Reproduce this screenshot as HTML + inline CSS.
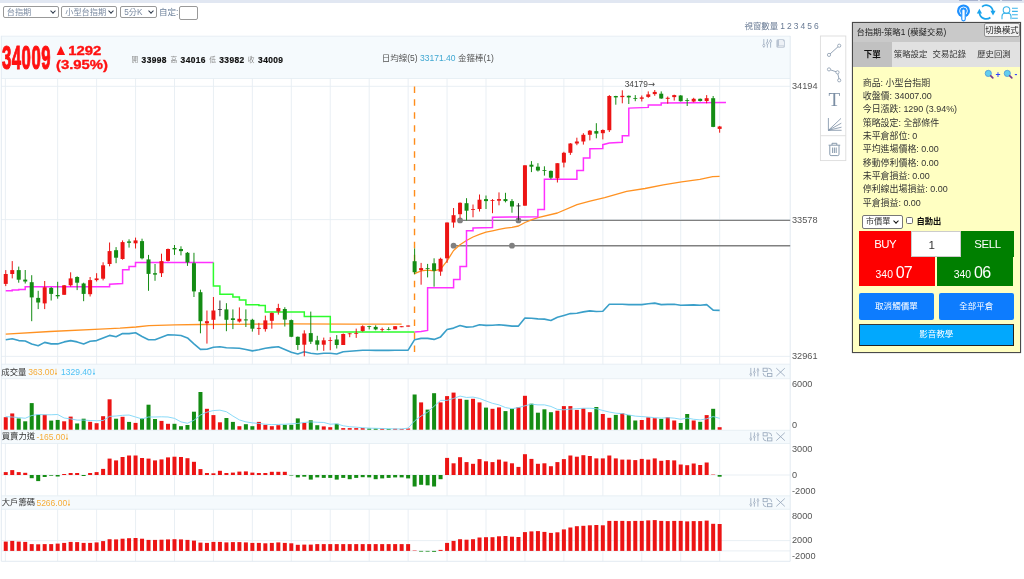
<!DOCTYPE html>
<html lang="zh-Hant"><head><meta charset="utf-8"><title>台指期</title>
<style>
html,body{margin:0;padding:0;background:#fff;}
body{width:1024px;height:579px;position:relative;overflow:hidden;font-family:"Liberation Sans","Noto Sans CJK TC",sans-serif;}
.t{position:absolute;white-space:nowrap;}
svg{position:absolute;left:0;top:0;}
.sel{position:absolute;box-sizing:border-box;border:1px solid #999;border-radius:2px;background:#fff;color:#7a8aa1;font-size:8.2px;line-height:11px;padding:0 0 0 3.2px;white-space:nowrap;}
.sel i{position:absolute;right:3px;top:2.5px;width:3px;height:3px;border-right:1.4px solid #2f3b4c;border-bottom:1.4px solid #2f3b4c;transform:rotate(45deg);}
#panel{position:absolute;left:852px;top:22px;width:169px;height:330.5px;box-sizing:border-box;border:1px solid #4a4a4a;background:#ffffc2;box-shadow:0 0 0.8px #555;}
#ptitle{position:absolute;left:0;top:0;width:167px;height:19px;background:#c9c9c9;}
#ptabs{position:absolute;left:0;top:19px;width:167px;height:25px;background:#e1e1e1;}
#ptabs .act{position:absolute;left:0;top:0;width:38.5px;height:25px;background:#c1c1c1;}
.btn{position:absolute;box-sizing:border-box;color:#fff;text-align:center;font-size:8.53px;}
</style></head><body>
<div style="position:absolute;left:0;top:0;width:1024px;height:2.6px;background:#e1e7f2"></div>
<div style="position:absolute;left:958.5px;top:0;width:19.5px;height:0.8px;background:#aab4cf"></div>
<div style="position:absolute;left:980.3px;top:0;width:19.6px;height:0.8px;background:#aab4cf"></div>
<div style="position:absolute;left:1002.2px;top:0;width:19.8px;height:0.8px;background:#aab4cf"></div>
<svg width="1024" height="579" viewBox="0 0 1024 579">
<rect x="1.3" y="36.2" width="788.9" height="42.3" fill="#f5fafd"/>
<path d="M1.3 36.2H790.2M1.3 78.5H790.2" stroke="#e3ecf3" stroke-width="0.8" fill="none"/>
<rect x="1.3" y="364.2" width="788.9" height="14.5" fill="#f5fafd"/>
<path d="M1.3 364.2H790.2M1.3 378.7H790.2" stroke="#e3ecf3" stroke-width="0.8" fill="none"/>
<rect x="1.3" y="430.3" width="788.9" height="13.2" fill="#f5fafd"/>
<path d="M1.3 430.3H790.2M1.3 443.5H790.2" stroke="#e3ecf3" stroke-width="0.8" fill="none"/>
<rect x="1.3" y="495.8" width="788.9" height="13.5" fill="#f5fafd"/>
<path d="M1.3 495.8H790.2M1.3 509.3H790.2" stroke="#e3ecf3" stroke-width="0.8" fill="none"/>
<path d="M5.35 78.5V364.2M5.35 378.7V430.3M5.35 443.5V495.8M5.35 509.3V561.3M57.67 78.5V364.2M57.67 378.7V430.3M57.67 443.5V495.8M57.67 509.3V561.3M96.61 78.5V364.2M96.61 378.7V430.3M96.61 443.5V495.8M96.61 509.3V561.3M135.55 78.5V364.2M135.55 378.7V430.3M135.55 443.5V495.8M135.55 509.3V561.3M174.49 78.5V364.2M174.49 378.7V430.3M174.49 443.5V495.8M174.49 509.3V561.3M213.43 78.5V364.2M213.43 378.7V430.3M213.43 443.5V495.8M213.43 509.3V561.3M252.37 78.5V364.2M252.37 378.7V430.3M252.37 443.5V495.8M252.37 509.3V561.3M291.31 78.5V364.2M291.31 378.7V430.3M291.31 443.5V495.8M291.31 509.3V561.3M330.25 78.5V364.2M330.25 378.7V430.3M330.25 443.5V495.8M330.25 509.3V561.3M369.19 78.5V364.2M369.19 378.7V430.3M369.19 443.5V495.8M369.19 509.3V561.3M408.13 78.5V364.2M408.13 378.7V430.3M408.13 443.5V495.8M408.13 509.3V561.3M447.07 78.5V364.2M447.07 378.7V430.3M447.07 443.5V495.8M447.07 509.3V561.3M486.01 78.5V364.2M486.01 378.7V430.3M486.01 443.5V495.8M486.01 509.3V561.3M524.95 78.5V364.2M524.95 378.7V430.3M524.95 443.5V495.8M524.95 509.3V561.3M563.89 78.5V364.2M563.89 378.7V430.3M563.89 443.5V495.8M563.89 509.3V561.3M602.83 78.5V364.2M602.83 378.7V430.3M602.83 443.5V495.8M602.83 509.3V561.3M641.77 78.5V364.2M641.77 378.7V430.3M641.77 443.5V495.8M641.77 509.3V561.3M680.71 78.5V364.2M680.71 378.7V430.3M680.71 443.5V495.8M680.71 509.3V561.3M719.65 78.5V364.2M719.65 378.7V430.3M719.65 443.5V495.8M719.65 509.3V561.3" stroke="#e6edf3" stroke-width="0.9" fill="none"/>
<path d="M1.3 86.3H790.2M1.3 219.6H790.2M1.3 356.4H790.2M1.3 475H790.2M1.3 540.6H790.2M1.3 550.9H790.2" stroke="#e6edf3" stroke-width="0.9" fill="none"/>
<path d="M1.3 35.9V561.3H790.2V35.9" stroke="#dfe8ef" stroke-width="0.9" fill="none"/>
<path d="M414.52 86.4V353" stroke="#ff8c1a" stroke-width="1.4" stroke-dasharray="6.5 6.45" fill="none"/>
<path d="M460.05 220.4H790.2M453.56 245.7H790.2" stroke="#808080" stroke-width="1.4" fill="none"/>
<circle cx="460.05" cy="220.4" r="2.9" fill="#808080"/>
<circle cx="518.46" cy="220.4" r="2.9" fill="#808080"/>
<circle cx="453.56" cy="245.7" r="2.9" fill="#808080"/>
<circle cx="511.97" cy="245.7" r="2.9" fill="#808080"/>
<polyline points="5.75,339.8 12.24,338.7 18.73,340.6 25.22,341 31.71,343.9 38.2,345.7 44.69,342.4 51.18,343.9 57.67,343.9 64.16,341.9 70.65,340.6 77.14,341.9 83.63,343.9 90.12,341.3 96.61,340.6 103.1,338 109.59,335.4 116.08,336.7 122.57,333.5 129.06,333.6 135.55,332.8 142.04,336.5 148.53,339.7 155.02,339.7 161.51,337.3 168,334.8 174.49,335 180.98,335.5 187.47,337.9 193.96,343.8 200.45,349.4 206.94,349.2 213.43,347.2 219.92,346.7 226.41,347.8 232.9,348 239.39,348.2 245.88,349.5 252.37,350.9 258.86,349.8 265.35,348.2 271.84,347.4 278.33,346.7 284.82,349.4 291.31,352.2 297.8,354 304.29,351.8 310.78,353.2 317.27,354 323.76,353.2 330.25,353.2 336.74,354 343.23,351.8 349.72,351.3 356.21,350.8 362.7,350.2 369.19,350.2 375.68,350.4 382.17,350.4 388.66,350.4 395.15,350.2 401.64,350.2 408.13,350.1 414.62,339.7 421.11,338.4 427.6,338.4 434.09,339.4 440.58,336.9 447.07,329.5 453.56,328.1 460.05,325.5 466.54,327.1 473.03,326.7 479.52,324.8 486.01,325.4 492.5,325.2 498.99,324.8 505.48,325.4 511.97,326.1 518.46,326.1 524.95,318.1 531.44,318.3 537.93,318.9 544.42,319.1 550.91,320.5 557.4,317.3 563.89,315.4 570.38,313.6 576.87,313.2 583.36,311.9 589.85,310.9 596.34,311.5 602.83,311.2 609.32,304.2 615.81,304.2 622.3,304.2 628.79,304.6 635.28,304.6 641.77,304.6 648.26,303.8 654.75,303.1 661.24,304.6 667.73,304.4 674.22,304.2 680.71,305.3 687.2,305.1 693.69,304.9 700.18,305.3 706.67,304.6 713.16,310.1 719.65,310.4" stroke="#3a9fc9" stroke-width="1.6" fill="none" stroke-linejoin="round"/>
<polyline points="5.75,334.1 50,331.5 100,329.2 120,328.2 136,327 149,325.6 175,324.9 200,324.5 230,324.3 290,323.9 350,324.1 401.6,324.2" stroke="#ff9222" stroke-width="1.3" fill="none" stroke-linejoin="round"/>
<polyline points="414.6,273.7 421.1,270.8 427.6,270.2 434.1,270.8 440.6,269.1 447.1,260.8 453.6,250.5 460,244.7 466.5,240.5 473,237 479.5,234.3 486,232.2 492.5,230.8 499,229.3 505.5,228.1 512,227.3 518.5,226 525,222.5 531.4,219.8 537.9,217.7 557.4,213 577,204.7 590,201.2 604.7,197.6 626.6,191.4 645,188.5 663.3,184.8 681.6,181.9 699.9,179.3 712.7,176.7 719.6,176.4" stroke="#ff9222" stroke-width="1.3" fill="none" stroke-linejoin="round"/>
<polyline points="5.75,290.8 12.2,290.8 12.2,290.1 18.7,290.1 18.7,289.6 25.2,289.6 25.2,286.7 109.6,286.7 109.6,284.2 122.6,283.6 122.6,269.7 129,269.7 129,266.6 135.5,266.6 135.5,262.6 213.4,262.6" stroke="#ff30ff" stroke-width="1.5" fill="none"/>
<polyline points="213.4,262.6 213.4,286 219.9,286 219.9,294.3 232.9,294.3 232.9,297 239.4,297 239.4,300.1 245.9,300.1 245.9,304.7 258.9,304.7 258.9,305.5 265.3,305.5 265.3,312 304.3,312 304.3,316.4 330.3,316.4 330.3,332.1 414.6,332.1" stroke="#2dfc2d" stroke-width="1.5" fill="none"/>
<polyline points="414.6,332 421.1,331.6 427.6,330.4 427.6,287.8 453.6,287.8 453.6,279.5 460,279.5 460,266.6 466.5,266.6 466.5,230.8 473,230.8 473,228.1 492.5,227.6 492.5,217.3 512,216.9 537.9,216.7 537.9,209.4 544.4,209.4 544.4,179.2 576.9,179.2 576.9,170.5 583.4,170.5 583.4,158 589.9,158 589.9,148.7 602.8,148.4 602.8,144.7 609.3,143.1 622.3,142.3 622.3,135.7 628.8,135.7 628.8,108.1 648.3,107.4 648.3,105.1 661.2,105.1 661.2,102.9 726,102.6" stroke="#ff30ff" stroke-width="1.5" fill="none"/>
<path d="M5.75 270.1V286.1" stroke="#ec1414" stroke-width="1"/>
<rect x="3.75" y="274" width="4" height="9.9" fill="#ec1414"/>
<path d="M12.24 261.1V278.4" stroke="#ec1414" stroke-width="1"/>
<rect x="10.24" y="270.1" width="4" height="3.9" fill="#ec1414"/>
<path d="M18.73 266.6V282.7" stroke="#148c14" stroke-width="1"/>
<rect x="16.73" y="270.1" width="4" height="9.6" fill="#148c14"/>
<path d="M25.22 270V283.5" stroke="#148c14" stroke-width="1"/>
<rect x="23.22" y="279.6" width="4" height="1.9" fill="#148c14"/>
<path d="M31.71 275.2V321.2" stroke="#148c14" stroke-width="1"/>
<rect x="29.71" y="282.2" width="4" height="15.2" fill="#148c14"/>
<path d="M38.2 290.8V309.1" stroke="#148c14" stroke-width="1"/>
<rect x="36.2" y="297.9" width="4" height="4.6" fill="#148c14"/>
<path d="M44.69 281V309.1" stroke="#ec1414" stroke-width="1"/>
<rect x="42.69" y="287.3" width="4" height="16.1" fill="#ec1414"/>
<path d="M51.18 287V300.5" stroke="#148c14" stroke-width="1"/>
<rect x="49.18" y="287.9" width="4" height="6" fill="#148c14"/>
<path d="M57.67 281.8V298.7" stroke="#148c14" stroke-width="1"/>
<rect x="55.67" y="295" width="4" height="1.3" fill="#148c14"/>
<path d="M64.16 285V294.8" stroke="#ec1414" stroke-width="1"/>
<rect x="62.16" y="285.3" width="4" height="9.5" fill="#ec1414"/>
<path d="M70.65 272.3V286.6" stroke="#ec1414" stroke-width="1"/>
<rect x="68.65" y="278.4" width="4" height="6.9" fill="#ec1414"/>
<path d="M77.14 276.3V290.1" stroke="#148c14" stroke-width="1"/>
<rect x="75.14" y="277" width="4" height="5.7" fill="#148c14"/>
<path d="M83.63 282.7V301.2" stroke="#148c14" stroke-width="1"/>
<rect x="81.63" y="283.5" width="4" height="10.4" fill="#148c14"/>
<path d="M90.12 277V296.5" stroke="#ec1414" stroke-width="1"/>
<rect x="88.12" y="280.1" width="4" height="14.1" fill="#ec1414"/>
<path d="M96.61 273.2V281.5" stroke="#ec1414" stroke-width="1"/>
<rect x="94.61" y="278.4" width="4" height="1.7" fill="#ec1414"/>
<path d="M103.1 262.3V280.4" stroke="#ec1414" stroke-width="1"/>
<rect x="101.1" y="265.3" width="4" height="13.4" fill="#ec1414"/>
<path d="M109.59 242.5V266.3" stroke="#ec1414" stroke-width="1"/>
<rect x="107.59" y="251.1" width="4" height="12.9" fill="#ec1414"/>
<path d="M116.08 247.1V263.2" stroke="#148c14" stroke-width="1"/>
<rect x="114.08" y="250.2" width="4" height="7.5" fill="#148c14"/>
<path d="M122.57 240.4V259.7" stroke="#ec1414" stroke-width="1"/>
<rect x="120.57" y="242.1" width="4" height="16.9" fill="#ec1414"/>
<path d="M129.06 239.3V247.6" stroke="#148c14" stroke-width="1"/>
<rect x="127.06" y="241.4" width="4" height="1.4" fill="#148c14"/>
<path d="M135.55 237.6V248.5" stroke="#ec1414" stroke-width="1"/>
<rect x="133.55" y="240.4" width="4" height="2.9" fill="#ec1414"/>
<path d="M142.04 238.7V259.4" stroke="#148c14" stroke-width="1"/>
<rect x="140.04" y="241.1" width="4" height="17.2" fill="#148c14"/>
<path d="M148.53 254.9V290.8" stroke="#148c14" stroke-width="1"/>
<rect x="146.53" y="259.4" width="4" height="14.5" fill="#148c14"/>
<path d="M155.02 264V280.8" stroke="#148c14" stroke-width="1"/>
<rect x="153.02" y="273.2" width="4" height="1.4" fill="#148c14"/>
<path d="M161.51 253.7V277" stroke="#ec1414" stroke-width="1"/>
<rect x="159.51" y="261.1" width="4" height="12.1" fill="#ec1414"/>
<path d="M168 248.5V261.5" stroke="#ec1414" stroke-width="1"/>
<rect x="166" y="249" width="4" height="11.9" fill="#ec1414"/>
<path d="M174.49 245V254.9" stroke="#148c14" stroke-width="1"/>
<rect x="172.49" y="248" width="4" height="1.4" fill="#148c14"/>
<path d="M180.98 246.3V255.4" stroke="#148c14" stroke-width="1"/>
<rect x="178.98" y="249" width="4" height="2.1" fill="#148c14"/>
<path d="M187.47 252V265.9" stroke="#148c14" stroke-width="1"/>
<rect x="185.47" y="252.8" width="4" height="9.6" fill="#148c14"/>
<path d="M193.96 252.8V297" stroke="#148c14" stroke-width="1"/>
<rect x="191.96" y="263.2" width="4" height="28.2" fill="#148c14"/>
<path d="M200.45 289.7V333.3" stroke="#148c14" stroke-width="1"/>
<rect x="198.45" y="292.2" width="4" height="29" fill="#148c14"/>
<path d="M206.94 310.5V343.6" stroke="#ec1414" stroke-width="1"/>
<rect x="204.94" y="321.2" width="4" height="2.1" fill="#ec1414"/>
<path d="M213.43 297V329.1" stroke="#ec1414" stroke-width="1"/>
<rect x="211.43" y="310.5" width="4" height="9.3" fill="#ec1414"/>
<path d="M219.92 300.5V316.3" stroke="#333" stroke-width="1"/>
<rect x="217.92" y="309.1" width="4" height="0.8" fill="#333"/>
<path d="M226.41 303.2V331.2" stroke="#148c14" stroke-width="1"/>
<rect x="224.41" y="309.4" width="4" height="10.4" fill="#148c14"/>
<path d="M232.9 309.4V329.1" stroke="#148c14" stroke-width="1"/>
<rect x="230.9" y="318.3" width="4" height="1.7" fill="#148c14"/>
<path d="M239.39 307.4V322.5" stroke="#ec1414" stroke-width="1"/>
<rect x="237.39" y="318.8" width="4" height="2.7" fill="#ec1414"/>
<path d="M245.88 309.4V327" stroke="#148c14" stroke-width="1"/>
<rect x="243.88" y="319.4" width="4" height="1" fill="#148c14"/>
<path d="M252.37 318.8V331.6" stroke="#148c14" stroke-width="1"/>
<rect x="250.37" y="319.8" width="4" height="8.9" fill="#148c14"/>
<path d="M258.86 322.9V334.9" stroke="#ec1414" stroke-width="1"/>
<rect x="256.86" y="327.9" width="4" height="0.9" fill="#ec1414"/>
<path d="M265.35 315.6V331.6" stroke="#ec1414" stroke-width="1"/>
<rect x="263.35" y="320.4" width="4" height="8.7" fill="#ec1414"/>
<path d="M271.84 312.5V328.7" stroke="#ec1414" stroke-width="1"/>
<rect x="269.84" y="313" width="4" height="7.8" fill="#ec1414"/>
<path d="M278.33 303.8V314.6" stroke="#ec1414" stroke-width="1"/>
<rect x="276.33" y="308" width="4" height="3.5" fill="#ec1414"/>
<path d="M284.82 307.2V326.5" stroke="#148c14" stroke-width="1"/>
<rect x="282.82" y="309" width="4" height="10.6" fill="#148c14"/>
<path d="M291.31 319.5V337.2" stroke="#148c14" stroke-width="1"/>
<rect x="289.31" y="320.1" width="4" height="16.7" fill="#148c14"/>
<path d="M297.8 336.5V349.9" stroke="#148c14" stroke-width="1"/>
<rect x="295.8" y="336.8" width="4" height="8.2" fill="#148c14"/>
<path d="M304.29 330.3V356.3" stroke="#ec1414" stroke-width="1"/>
<rect x="302.29" y="333.5" width="4" height="11.2" fill="#ec1414"/>
<path d="M310.78 311.6V344" stroke="#148c14" stroke-width="1"/>
<rect x="308.78" y="333.1" width="4" height="8.6" fill="#148c14"/>
<path d="M317.27 335.8V350.4" stroke="#148c14" stroke-width="1"/>
<rect x="315.27" y="340.3" width="4" height="4.4" fill="#148c14"/>
<path d="M323.76 337.6V350.8" stroke="#ec1414" stroke-width="1"/>
<rect x="321.76" y="340.3" width="4" height="4.4" fill="#ec1414"/>
<path d="M330.25 337.2V350.2" stroke="#ec1414" stroke-width="1"/>
<rect x="328.25" y="340.2" width="4" height="0.8" fill="#ec1414"/>
<path d="M336.74 335.1V348.5" stroke="#148c14" stroke-width="1"/>
<rect x="334.74" y="339.5" width="4" height="5.5" fill="#148c14"/>
<path d="M343.23 333.5V345" stroke="#ec1414" stroke-width="1"/>
<rect x="341.23" y="334" width="4" height="11" fill="#ec1414"/>
<path d="M349.72 333V337.2" stroke="#ec1414" stroke-width="1"/>
<rect x="347.72" y="333.4" width="4" height="0.8" fill="#ec1414"/>
<path d="M356.21 328.6V337.9" stroke="#ec1414" stroke-width="1"/>
<rect x="354.21" y="333.1" width="4" height="0.8" fill="#ec1414"/>
<path d="M362.7 325.3V331.7" stroke="#ec1414" stroke-width="1"/>
<rect x="360.7" y="326.2" width="4" height="4.8" fill="#ec1414"/>
<path d="M369.19 325.8V329.4" stroke="#148c14" stroke-width="1"/>
<rect x="367.19" y="326.2" width="4" height="0.8" fill="#148c14"/>
<path d="M375.68 325.3V330.3" stroke="#148c14" stroke-width="1"/>
<rect x="373.68" y="326.9" width="4" height="2.5" fill="#148c14"/>
<path d="M382.17 327.6V331.7" stroke="#ec1414" stroke-width="1"/>
<rect x="380.17" y="329" width="4" height="0.8" fill="#ec1414"/>
<path d="M388.66 327.2V330.3" stroke="#148c14" stroke-width="1"/>
<rect x="386.66" y="329" width="4" height="0.8" fill="#148c14"/>
<path d="M395.15 326.2V329.4" stroke="#ec1414" stroke-width="1"/>
<rect x="393.15" y="326.2" width="4" height="3.2" fill="#ec1414"/>
<path d="M401.64 326.2V327.2" stroke="#ec1414" stroke-width="1"/>
<rect x="399.64" y="326.2" width="4" height="1" fill="#ec1414"/>
<path d="M408.13 325.5V326.6" stroke="#ec1414" stroke-width="1"/>
<rect x="406.13" y="325.5" width="4" height="1.1" fill="#ec1414"/>
<path d="M414.62 248.4V274.3" stroke="#148c14" stroke-width="1"/>
<rect x="412.62" y="261.2" width="4" height="11" fill="#148c14"/>
<path d="M421.11 262.9V284.7" stroke="#ec1414" stroke-width="1"/>
<rect x="419.11" y="268.1" width="4" height="2.1" fill="#ec1414"/>
<path d="M427.6 263.9V277.4" stroke="#148c14" stroke-width="1"/>
<rect x="425.6" y="268.2" width="4" height="0.8" fill="#148c14"/>
<path d="M434.09 258.3V286.7" stroke="#148c14" stroke-width="1"/>
<rect x="432.09" y="263.3" width="4" height="7.5" fill="#148c14"/>
<path d="M440.58 257.7V275.8" stroke="#ec1414" stroke-width="1"/>
<rect x="438.58" y="258.8" width="4" height="12.8" fill="#ec1414"/>
<path d="M447.07 222.5V262.9" stroke="#ec1414" stroke-width="1"/>
<rect x="445.07" y="222.5" width="4" height="35.8" fill="#ec1414"/>
<path d="M453.56 208V227.7" stroke="#ec1414" stroke-width="1"/>
<rect x="451.56" y="215.2" width="4" height="7.3" fill="#ec1414"/>
<path d="M460.05 202.4V218.3" stroke="#ec1414" stroke-width="1"/>
<rect x="458.05" y="202.8" width="4" height="11.4" fill="#ec1414"/>
<path d="M466.54 198.2V220.4" stroke="#148c14" stroke-width="1"/>
<rect x="464.54" y="203.2" width="4" height="7.5" fill="#148c14"/>
<path d="M473.03 204.5V217.3" stroke="#ec1414" stroke-width="1"/>
<rect x="471.03" y="209.1" width="4" height="0.8" fill="#ec1414"/>
<path d="M479.52 194.5V211.5" stroke="#ec1414" stroke-width="1"/>
<rect x="477.52" y="199.7" width="4" height="9.3" fill="#ec1414"/>
<path d="M486.01 195.5V209" stroke="#148c14" stroke-width="1"/>
<rect x="484.01" y="199.1" width="4" height="2" fill="#148c14"/>
<path d="M492.5 199.1V213.2" stroke="#ec1414" stroke-width="1"/>
<rect x="490.5" y="200.1" width="4" height="0.8" fill="#ec1414"/>
<path d="M498.99 192.4V205.3" stroke="#ec1414" stroke-width="1"/>
<rect x="496.99" y="199.1" width="4" height="1.6" fill="#ec1414"/>
<path d="M505.48 192.8V202.4" stroke="#148c14" stroke-width="1"/>
<rect x="503.48" y="199.1" width="4" height="2" fill="#148c14"/>
<path d="M511.97 199.1V212.7" stroke="#148c14" stroke-width="1"/>
<rect x="509.97" y="201.1" width="4" height="5.4" fill="#148c14"/>
<path d="M518.46 203.2V220.4" stroke="#333" stroke-width="1"/>
<rect x="516.46" y="205.5" width="4" height="0.8" fill="#333"/>
<path d="M524.95 165.3V205.7" stroke="#ec1414" stroke-width="1"/>
<rect x="522.95" y="165.3" width="4" height="40.4" fill="#ec1414"/>
<path d="M531.44 161.1V172.1" stroke="#148c14" stroke-width="1"/>
<rect x="529.44" y="164.7" width="4" height="2" fill="#148c14"/>
<path d="M537.93 163.2V171.5" stroke="#148c14" stroke-width="1"/>
<rect x="535.93" y="166.7" width="4" height="3.8" fill="#148c14"/>
<path d="M544.42 166.3V175.6" stroke="#148c14" stroke-width="1"/>
<rect x="542.42" y="170.1" width="4" height="0.8" fill="#148c14"/>
<path d="M550.91 170.5V179.2" stroke="#148c14" stroke-width="1"/>
<rect x="548.91" y="170.9" width="4" height="6.8" fill="#148c14"/>
<path d="M557.4 163.2V182.5" stroke="#ec1414" stroke-width="1"/>
<rect x="555.4" y="163.2" width="4" height="15.1" fill="#ec1414"/>
<path d="M563.89 151.8V167.4" stroke="#ec1414" stroke-width="1"/>
<rect x="561.89" y="152.8" width="4" height="9.8" fill="#ec1414"/>
<path d="M570.38 143.1V154.9" stroke="#ec1414" stroke-width="1"/>
<rect x="568.38" y="143.5" width="4" height="9.3" fill="#ec1414"/>
<path d="M576.87 137.7V145.2" stroke="#ec1414" stroke-width="1"/>
<rect x="574.87" y="141.5" width="4" height="2" fill="#ec1414"/>
<path d="M583.36 133.2V144.6" stroke="#ec1414" stroke-width="1"/>
<rect x="581.36" y="134.8" width="4" height="6.7" fill="#ec1414"/>
<path d="M589.85 130V140.4" stroke="#ec1414" stroke-width="1"/>
<rect x="587.85" y="130.7" width="4" height="4.1" fill="#ec1414"/>
<path d="M596.34 123.2V138.3" stroke="#148c14" stroke-width="1"/>
<rect x="594.34" y="131.1" width="4" height="2.5" fill="#148c14"/>
<path d="M602.83 129.4V139.4" stroke="#ec1414" stroke-width="1"/>
<rect x="600.83" y="130" width="4" height="3.2" fill="#ec1414"/>
<path d="M609.32 95.1V132" stroke="#ec1414" stroke-width="1"/>
<rect x="607.32" y="96" width="4" height="34.2" fill="#ec1414"/>
<path d="M615.81 95.8V104.7" stroke="#148c14" stroke-width="1"/>
<rect x="613.81" y="96" width="4" height="1.4" fill="#148c14"/>
<path d="M622.3 90.3V103.3" stroke="#ec1414" stroke-width="1"/>
<rect x="620.3" y="95.8" width="4" height="1.3" fill="#ec1414"/>
<path d="M628.79 95.5V104" stroke="#148c14" stroke-width="1"/>
<rect x="626.79" y="95.8" width="4" height="1.6" fill="#148c14"/>
<path d="M635.28 95.1V101.2" stroke="#148c14" stroke-width="1"/>
<rect x="633.28" y="98.1" width="4" height="0.8" fill="#148c14"/>
<path d="M641.77 95.5V101.5" stroke="#ec1414" stroke-width="1"/>
<rect x="639.77" y="97.4" width="4" height="1.4" fill="#ec1414"/>
<path d="M648.26 91.4V97.8" stroke="#ec1414" stroke-width="1"/>
<rect x="646.26" y="94.4" width="4" height="2.5" fill="#ec1414"/>
<path d="M654.75 90V95.8" stroke="#ec1414" stroke-width="1"/>
<rect x="652.75" y="91.9" width="4" height="2.2" fill="#ec1414"/>
<path d="M661.24 91.4V98.8" stroke="#148c14" stroke-width="1"/>
<rect x="659.24" y="93.7" width="4" height="4.8" fill="#148c14"/>
<path d="M667.73 96.5V103.7" stroke="#ec1414" stroke-width="1"/>
<rect x="665.73" y="97.8" width="4" height="1" fill="#ec1414"/>
<path d="M674.22 94.7V100.6" stroke="#ec1414" stroke-width="1"/>
<rect x="672.22" y="95.1" width="4" height="2" fill="#ec1414"/>
<path d="M680.71 95.1V101.5" stroke="#148c14" stroke-width="1"/>
<rect x="678.71" y="95.5" width="4" height="5.7" fill="#148c14"/>
<path d="M687.2 98.2V106" stroke="#148c14" stroke-width="1"/>
<rect x="685.2" y="100.2" width="4" height="0.8" fill="#148c14"/>
<path d="M693.69 97.8V102.3" stroke="#ec1414" stroke-width="1"/>
<rect x="691.69" y="98.8" width="4" height="2.7" fill="#ec1414"/>
<path d="M700.18 98.5V101.5" stroke="#148c14" stroke-width="1"/>
<rect x="698.18" y="98.8" width="4" height="2.2" fill="#148c14"/>
<path d="M706.67 95.1V103.3" stroke="#ec1414" stroke-width="1"/>
<rect x="704.67" y="98.2" width="4" height="2.8" fill="#ec1414"/>
<path d="M713.16 96V127.2" stroke="#148c14" stroke-width="1"/>
<rect x="711.16" y="98.2" width="4" height="28.7" fill="#148c14"/>
<path d="M719.65 125.9V132.7" stroke="#ec1414" stroke-width="1"/>
<rect x="717.65" y="126.5" width="4" height="2.4" fill="#ec1414"/>
<rect x="3.75" y="417.2" width="4" height="12.5" fill="#ec1414"/>
<rect x="10.24" y="413.45" width="4" height="16.25" fill="#ec1414"/>
<rect x="16.73" y="418.45" width="4" height="11.25" fill="#148c14"/>
<rect x="23.22" y="421.3" width="4" height="8.4" fill="#148c14"/>
<rect x="29.71" y="403.1" width="4" height="26.6" fill="#148c14"/>
<rect x="36.2" y="414.7" width="4" height="15" fill="#148c14"/>
<rect x="42.69" y="414.7" width="4" height="15" fill="#ec1414"/>
<rect x="49.18" y="420.6" width="4" height="9.1" fill="#148c14"/>
<rect x="55.67" y="419.95" width="4" height="9.75" fill="#148c14"/>
<rect x="62.16" y="421.3" width="4" height="8.4" fill="#ec1414"/>
<rect x="68.65" y="416.6" width="4" height="13.1" fill="#ec1414"/>
<rect x="75.14" y="423.45" width="4" height="6.25" fill="#148c14"/>
<rect x="81.63" y="418.7" width="4" height="11" fill="#148c14"/>
<rect x="88.12" y="421.8" width="4" height="7.9" fill="#ec1414"/>
<rect x="94.61" y="423.2" width="4" height="6.5" fill="#ec1414"/>
<rect x="101.1" y="416.2" width="4" height="13.5" fill="#ec1414"/>
<rect x="107.59" y="399.3" width="4" height="30.4" fill="#ec1414"/>
<rect x="114.08" y="418.7" width="4" height="11" fill="#148c14"/>
<rect x="120.57" y="416.8" width="4" height="12.9" fill="#ec1414"/>
<rect x="127.06" y="421.9" width="4" height="7.8" fill="#148c14"/>
<rect x="133.55" y="422.9" width="4" height="6.8" fill="#ec1414"/>
<rect x="140.04" y="418.4" width="4" height="11.3" fill="#148c14"/>
<rect x="146.53" y="404.7" width="4" height="25" fill="#148c14"/>
<rect x="153.02" y="419" width="4" height="10.7" fill="#148c14"/>
<rect x="159.51" y="420.9" width="4" height="8.8" fill="#ec1414"/>
<rect x="166" y="423.8" width="4" height="5.9" fill="#ec1414"/>
<rect x="172.49" y="423.8" width="4" height="5.9" fill="#148c14"/>
<rect x="178.98" y="426.2" width="4" height="3.5" fill="#148c14"/>
<rect x="185.47" y="425" width="4" height="4.7" fill="#148c14"/>
<rect x="191.96" y="411.7" width="4" height="18" fill="#148c14"/>
<rect x="198.45" y="392" width="4" height="37.7" fill="#148c14"/>
<rect x="204.94" y="408.8" width="4" height="20.9" fill="#ec1414"/>
<rect x="211.43" y="415.1" width="4" height="14.6" fill="#ec1414"/>
<rect x="217.92" y="422.3" width="4" height="7.4" fill="#ec1414"/>
<rect x="224.41" y="418" width="4" height="11.7" fill="#148c14"/>
<rect x="230.9" y="421.9" width="4" height="7.8" fill="#148c14"/>
<rect x="237.39" y="426.2" width="4" height="3.5" fill="#ec1414"/>
<rect x="243.88" y="424.2" width="4" height="5.5" fill="#148c14"/>
<rect x="250.37" y="426.2" width="4" height="3.5" fill="#148c14"/>
<rect x="256.86" y="421.9" width="4" height="7.8" fill="#ec1414"/>
<rect x="263.35" y="424.8" width="4" height="4.9" fill="#ec1414"/>
<rect x="269.84" y="426.2" width="4" height="3.5" fill="#ec1414"/>
<rect x="276.33" y="425.2" width="4" height="4.5" fill="#ec1414"/>
<rect x="282.82" y="424.8" width="4" height="4.9" fill="#148c14"/>
<rect x="289.31" y="424.8" width="4" height="4.9" fill="#148c14"/>
<rect x="295.8" y="418.4" width="4" height="11.3" fill="#148c14"/>
<rect x="302.29" y="422.9" width="4" height="6.8" fill="#ec1414"/>
<rect x="308.78" y="420.3" width="4" height="9.4" fill="#148c14"/>
<rect x="315.27" y="425.2" width="4" height="4.5" fill="#148c14"/>
<rect x="321.76" y="426.4" width="4" height="3.3" fill="#ec1414"/>
<rect x="328.25" y="427.2" width="4" height="2.5" fill="#ec1414"/>
<rect x="334.74" y="423.8" width="4" height="5.9" fill="#148c14"/>
<rect x="341.23" y="428.1" width="4" height="1.6" fill="#ec1414"/>
<rect x="347.72" y="428.1" width="4" height="1.6" fill="#ec1414"/>
<rect x="354.21" y="428.1" width="4" height="1.6" fill="#ec1414"/>
<rect x="360.7" y="428.1" width="4" height="1.6" fill="#ec1414"/>
<rect x="367.19" y="428.5" width="4" height="1.2" fill="#148c14"/>
<rect x="373.68" y="428.5" width="4" height="1.2" fill="#148c14"/>
<rect x="380.17" y="428.5" width="4" height="1.2" fill="#ec1414"/>
<rect x="386.66" y="428.9" width="4" height="0.8" fill="#148c14"/>
<rect x="393.15" y="428.7" width="4" height="1" fill="#ec1414"/>
<rect x="399.64" y="428.9" width="4" height="0.8" fill="#ec1414"/>
<rect x="406.13" y="428.5" width="4" height="1.2" fill="#ec1414"/>
<rect x="412.62" y="394.5" width="4" height="35.2" fill="#148c14"/>
<rect x="419.11" y="402.4" width="4" height="27.3" fill="#ec1414"/>
<rect x="425.6" y="409.6" width="4" height="20.1" fill="#148c14"/>
<rect x="432.09" y="393.2" width="4" height="36.5" fill="#148c14"/>
<rect x="438.58" y="402.4" width="4" height="27.3" fill="#ec1414"/>
<rect x="445.07" y="396.1" width="4" height="33.6" fill="#ec1414"/>
<rect x="451.56" y="392.6" width="4" height="37.1" fill="#ec1414"/>
<rect x="458.05" y="398.8" width="4" height="30.9" fill="#ec1414"/>
<rect x="464.54" y="399.8" width="4" height="29.9" fill="#148c14"/>
<rect x="471.03" y="398.8" width="4" height="30.9" fill="#ec1414"/>
<rect x="477.52" y="402.4" width="4" height="27.3" fill="#ec1414"/>
<rect x="484.01" y="407.6" width="4" height="22.1" fill="#148c14"/>
<rect x="490.5" y="408.8" width="4" height="20.9" fill="#ec1414"/>
<rect x="496.99" y="407.4" width="4" height="22.3" fill="#ec1414"/>
<rect x="503.48" y="411.1" width="4" height="18.6" fill="#148c14"/>
<rect x="509.97" y="408.8" width="4" height="20.9" fill="#148c14"/>
<rect x="516.46" y="407.2" width="4" height="22.5" fill="#ec1414"/>
<rect x="522.95" y="395.8" width="4" height="33.9" fill="#ec1414"/>
<rect x="529.44" y="403.7" width="4" height="26" fill="#148c14"/>
<rect x="535.93" y="412.7" width="4" height="17" fill="#148c14"/>
<rect x="542.42" y="409.3" width="4" height="20.4" fill="#148c14"/>
<rect x="548.91" y="412.2" width="4" height="17.5" fill="#148c14"/>
<rect x="555.4" y="410.7" width="4" height="19" fill="#ec1414"/>
<rect x="561.89" y="406.1" width="4" height="23.6" fill="#ec1414"/>
<rect x="568.38" y="406.1" width="4" height="23.6" fill="#ec1414"/>
<rect x="574.87" y="409.9" width="4" height="19.8" fill="#ec1414"/>
<rect x="581.36" y="408.4" width="4" height="21.3" fill="#ec1414"/>
<rect x="587.85" y="412.2" width="4" height="17.5" fill="#ec1414"/>
<rect x="594.34" y="407" width="4" height="22.7" fill="#148c14"/>
<rect x="600.83" y="414" width="4" height="15.7" fill="#ec1414"/>
<rect x="607.32" y="417.8" width="4" height="11.9" fill="#ec1414"/>
<rect x="613.81" y="414.9" width="4" height="14.8" fill="#148c14"/>
<rect x="620.3" y="413.3" width="4" height="16.4" fill="#ec1414"/>
<rect x="626.79" y="415.1" width="4" height="14.6" fill="#148c14"/>
<rect x="633.28" y="420.5" width="4" height="9.2" fill="#148c14"/>
<rect x="639.77" y="420" width="4" height="9.7" fill="#ec1414"/>
<rect x="646.26" y="417.3" width="4" height="12.4" fill="#ec1414"/>
<rect x="652.75" y="418.2" width="4" height="11.5" fill="#ec1414"/>
<rect x="659.24" y="418.9" width="4" height="10.8" fill="#148c14"/>
<rect x="665.73" y="417.1" width="4" height="12.6" fill="#ec1414"/>
<rect x="672.22" y="420.5" width="4" height="9.2" fill="#ec1414"/>
<rect x="678.71" y="423" width="4" height="6.7" fill="#148c14"/>
<rect x="685.2" y="414" width="4" height="15.7" fill="#148c14"/>
<rect x="691.69" y="420.5" width="4" height="9.2" fill="#ec1414"/>
<rect x="698.18" y="421.8" width="4" height="7.9" fill="#148c14"/>
<rect x="704.67" y="415.1" width="4" height="14.6" fill="#ec1414"/>
<rect x="711.16" y="408.8" width="4" height="20.9" fill="#148c14"/>
<rect x="717.65" y="427.2" width="4" height="2.5" fill="#ec1414"/>
<polyline points="5.75,416.6 12.24,417 18.73,417.6 25.22,418.25 31.71,415.5 38.2,414.5 44.69,414.75 51.18,414.75 57.67,414.5 64.16,418 70.65,418.9 77.14,420.1 83.63,420.1 90.12,420.5 96.61,420.75 103.1,420.5 109.59,416.4 116.08,416 122.57,415.3 129.06,415.04 135.55,416.99 142.04,418.95 148.53,416.99 155.02,416.99 161.51,416.8 168,416.99 174.49,418.36 180.98,421.88 187.47,423.24 193.96,420.31 200.45,415.04 206.94,412.11 213.43,410.55 219.92,410.16 226.41,411.72 232.9,416.02 239.39,419.92 245.88,421.88 252.37,422.85 258.86,423.44 265.35,424.22 271.84,424.61 278.33,424.41 284.82,424.22 291.31,423.83 297.8,423.44 304.29,422.46 310.78,421.88 317.27,422.27 323.76,422.46 330.25,424.22 336.74,423.83 343.23,425.78 349.72,426.76 356.21,427.15 362.7,427.73 369.19,428.12 375.68,428.32 382.17,428.52 388.66,428.71 395.15,428.91 401.64,428.91 408.13,428.12 414.62,420.9 421.11,416.02 427.6,412.11 434.09,406.25 440.58,400.39 447.07,400.39 453.56,398.44 460.05,396.09 466.54,397.46 473.03,397.07 479.52,398.44 486.01,400.98 492.5,403.32 498.99,404.87 505.48,407.57 511.97,408.69 518.46,407.57 524.95,405.77 531.44,404.2 537.93,404.87 544.42,404.87 550.91,406.45 557.4,409.37 563.89,409.82 570.38,409.14 576.87,408.69 583.36,408.24 589.85,408.24 596.34,408.69 602.83,410.49 609.32,412.06 615.81,413.19 622.3,413.63 628.79,414.98 635.28,416.11 641.77,416.55 648.26,417 654.75,417.68 661.24,418.13 667.73,417.68 674.22,418.13 680.71,419.25 687.2,418.13 693.69,419.25 700.18,419.92 706.67,418.8 713.16,416.55 719.65,418.35" stroke="#7dd6f7" stroke-width="0.9" fill="none" stroke-linejoin="round"/>
<rect x="3.75" y="472.1" width="4" height="2.9" fill="#ec1414"/>
<rect x="10.24" y="470.1" width="4" height="4.9" fill="#ec1414"/>
<rect x="16.73" y="472.1" width="4" height="2.9" fill="#ec1414"/>
<rect x="23.22" y="472.8" width="4" height="2.2" fill="#ec1414"/>
<rect x="29.71" y="475" width="4" height="3.2" fill="#148c14"/>
<rect x="36.2" y="475" width="4" height="6.1" fill="#148c14"/>
<rect x="42.69" y="475" width="4" height="2" fill="#148c14"/>
<rect x="49.18" y="475" width="4" height="0.7" fill="#148c14"/>
<rect x="55.67" y="475" width="4" height="1.5" fill="#148c14"/>
<rect x="62.16" y="474" width="4" height="1" fill="#ec1414"/>
<rect x="68.65" y="473" width="4" height="2" fill="#ec1414"/>
<rect x="75.14" y="473" width="4" height="2" fill="#ec1414"/>
<rect x="81.63" y="475" width="4" height="1" fill="#148c14"/>
<rect x="88.12" y="473" width="4" height="2" fill="#ec1414"/>
<rect x="94.61" y="472.1" width="4" height="2.9" fill="#ec1414"/>
<rect x="101.1" y="468.9" width="4" height="6.1" fill="#ec1414"/>
<rect x="107.59" y="458.6" width="4" height="16.4" fill="#ec1414"/>
<rect x="114.08" y="460.4" width="4" height="14.6" fill="#ec1414"/>
<rect x="120.57" y="457" width="4" height="18" fill="#ec1414"/>
<rect x="127.06" y="455.5" width="4" height="19.5" fill="#ec1414"/>
<rect x="133.55" y="455.5" width="4" height="19.5" fill="#ec1414"/>
<rect x="140.04" y="458" width="4" height="17" fill="#ec1414"/>
<rect x="146.53" y="458.6" width="4" height="16.4" fill="#ec1414"/>
<rect x="153.02" y="460.4" width="4" height="14.6" fill="#ec1414"/>
<rect x="159.51" y="459.4" width="4" height="15.6" fill="#ec1414"/>
<rect x="166" y="457.4" width="4" height="17.6" fill="#ec1414"/>
<rect x="172.49" y="456.7" width="4" height="18.3" fill="#ec1414"/>
<rect x="178.98" y="457" width="4" height="18" fill="#ec1414"/>
<rect x="185.47" y="458.2" width="4" height="16.8" fill="#ec1414"/>
<rect x="191.96" y="461.8" width="4" height="13.2" fill="#ec1414"/>
<rect x="198.45" y="469.1" width="4" height="5.9" fill="#ec1414"/>
<rect x="204.94" y="473" width="4" height="2" fill="#ec1414"/>
<rect x="211.43" y="473.3" width="4" height="1.7" fill="#ec1414"/>
<rect x="217.92" y="470.8" width="4" height="4.2" fill="#ec1414"/>
<rect x="224.41" y="473" width="4" height="2" fill="#ec1414"/>
<rect x="230.9" y="472.6" width="4" height="2.4" fill="#ec1414"/>
<rect x="237.39" y="471.6" width="4" height="3.4" fill="#ec1414"/>
<rect x="243.88" y="471.4" width="4" height="3.6" fill="#ec1414"/>
<rect x="250.37" y="472.6" width="4" height="2.4" fill="#ec1414"/>
<rect x="256.86" y="473" width="4" height="2" fill="#ec1414"/>
<rect x="263.35" y="473" width="4" height="2" fill="#ec1414"/>
<rect x="269.84" y="471.8" width="4" height="3.2" fill="#ec1414"/>
<rect x="276.33" y="471.8" width="4" height="3.2" fill="#ec1414"/>
<rect x="282.82" y="471.8" width="4" height="3.2" fill="#ec1414"/>
<rect x="289.31" y="475" width="4" height="0.5" fill="#148c14"/>
<rect x="295.8" y="475" width="4" height="2.4" fill="#148c14"/>
<rect x="302.29" y="475" width="4" height="1.7" fill="#148c14"/>
<rect x="308.78" y="475" width="4" height="4.6" fill="#148c14"/>
<rect x="315.27" y="475" width="4" height="2.4" fill="#148c14"/>
<rect x="321.76" y="475" width="4" height="2.9" fill="#148c14"/>
<rect x="328.25" y="475" width="4" height="2.9" fill="#148c14"/>
<rect x="334.74" y="475" width="4" height="4.6" fill="#148c14"/>
<rect x="341.23" y="475" width="4" height="2.9" fill="#148c14"/>
<rect x="347.72" y="475" width="4" height="4.2" fill="#148c14"/>
<rect x="354.21" y="475" width="4" height="2.9" fill="#148c14"/>
<rect x="360.7" y="475" width="4" height="2.2" fill="#148c14"/>
<rect x="367.19" y="475" width="4" height="2.4" fill="#148c14"/>
<rect x="373.68" y="475" width="4" height="4.2" fill="#148c14"/>
<rect x="380.17" y="475" width="4" height="3.4" fill="#148c14"/>
<rect x="386.66" y="475" width="4" height="2.9" fill="#148c14"/>
<rect x="393.15" y="475" width="4" height="2.4" fill="#148c14"/>
<rect x="399.64" y="475" width="4" height="2.4" fill="#148c14"/>
<rect x="406.13" y="475" width="4" height="3.4" fill="#148c14"/>
<rect x="412.62" y="475" width="4" height="11.5" fill="#148c14"/>
<rect x="419.11" y="475" width="4" height="9.8" fill="#148c14"/>
<rect x="425.6" y="475" width="4" height="10.3" fill="#148c14"/>
<rect x="432.09" y="475" width="4" height="11.5" fill="#148c14"/>
<rect x="438.58" y="475" width="4" height="4.2" fill="#148c14"/>
<rect x="445.07" y="457.9" width="4" height="17.1" fill="#ec1414"/>
<rect x="451.56" y="463.3" width="4" height="11.7" fill="#ec1414"/>
<rect x="458.05" y="457.2" width="4" height="17.8" fill="#ec1414"/>
<rect x="464.54" y="462.1" width="4" height="12.9" fill="#ec1414"/>
<rect x="471.03" y="463.8" width="4" height="11.2" fill="#ec1414"/>
<rect x="477.52" y="459.1" width="4" height="15.9" fill="#ec1414"/>
<rect x="484.01" y="461.3" width="4" height="13.7" fill="#ec1414"/>
<rect x="490.5" y="462.1" width="4" height="12.9" fill="#ec1414"/>
<rect x="496.99" y="459.6" width="4" height="15.4" fill="#ec1414"/>
<rect x="503.48" y="461.6" width="4" height="13.4" fill="#ec1414"/>
<rect x="509.97" y="463.3" width="4" height="11.7" fill="#ec1414"/>
<rect x="516.46" y="466.9" width="4" height="8.1" fill="#ec1414"/>
<rect x="522.95" y="454.2" width="4" height="20.8" fill="#ec1414"/>
<rect x="529.44" y="458.9" width="4" height="16.1" fill="#ec1414"/>
<rect x="535.93" y="463.8" width="4" height="11.2" fill="#ec1414"/>
<rect x="542.42" y="463.3" width="4" height="11.7" fill="#ec1414"/>
<rect x="548.91" y="466.2" width="4" height="8.8" fill="#ec1414"/>
<rect x="555.4" y="462.1" width="4" height="12.9" fill="#ec1414"/>
<rect x="561.89" y="459.1" width="4" height="15.9" fill="#ec1414"/>
<rect x="568.38" y="455.5" width="4" height="19.5" fill="#ec1414"/>
<rect x="574.87" y="456.7" width="4" height="18.3" fill="#ec1414"/>
<rect x="581.36" y="455.2" width="4" height="19.8" fill="#ec1414"/>
<rect x="587.85" y="456" width="4" height="19" fill="#ec1414"/>
<rect x="594.34" y="458.4" width="4" height="16.6" fill="#ec1414"/>
<rect x="600.83" y="458.4" width="4" height="16.6" fill="#ec1414"/>
<rect x="607.32" y="455.5" width="4" height="19.5" fill="#ec1414"/>
<rect x="613.81" y="458.4" width="4" height="16.6" fill="#ec1414"/>
<rect x="620.3" y="459.6" width="4" height="15.4" fill="#ec1414"/>
<rect x="626.79" y="459.6" width="4" height="15.4" fill="#ec1414"/>
<rect x="633.28" y="460.1" width="4" height="14.9" fill="#ec1414"/>
<rect x="639.77" y="458.9" width="4" height="16.1" fill="#ec1414"/>
<rect x="646.26" y="459.6" width="4" height="15.4" fill="#ec1414"/>
<rect x="652.75" y="458.4" width="4" height="16.6" fill="#ec1414"/>
<rect x="659.24" y="460.8" width="4" height="14.2" fill="#ec1414"/>
<rect x="665.73" y="460.1" width="4" height="14.9" fill="#ec1414"/>
<rect x="672.22" y="460.4" width="4" height="14.6" fill="#ec1414"/>
<rect x="678.71" y="464.5" width="4" height="10.5" fill="#ec1414"/>
<rect x="685.2" y="465.2" width="4" height="9.8" fill="#ec1414"/>
<rect x="691.69" y="463.5" width="4" height="11.5" fill="#ec1414"/>
<rect x="698.18" y="465" width="4" height="10" fill="#ec1414"/>
<rect x="704.67" y="462.5" width="4" height="12.5" fill="#ec1414"/>
<rect x="711.16" y="474.6" width="4" height="0.4" fill="#ec1414"/>
<rect x="717.65" y="475" width="4" height="1.7" fill="#148c14"/>
<rect x="3.75" y="541.6" width="4" height="9.3" fill="#ec1414"/>
<rect x="10.24" y="540.9" width="4" height="10" fill="#ec1414"/>
<rect x="16.73" y="541.6" width="4" height="9.3" fill="#ec1414"/>
<rect x="23.22" y="541.9" width="4" height="9" fill="#ec1414"/>
<rect x="29.71" y="544.1" width="4" height="6.8" fill="#ec1414"/>
<rect x="36.2" y="544.3" width="4" height="6.6" fill="#ec1414"/>
<rect x="42.69" y="544.1" width="4" height="6.8" fill="#ec1414"/>
<rect x="49.18" y="544.1" width="4" height="6.8" fill="#ec1414"/>
<rect x="55.67" y="543.6" width="4" height="7.3" fill="#ec1414"/>
<rect x="62.16" y="542.9" width="4" height="8" fill="#ec1414"/>
<rect x="68.65" y="541.9" width="4" height="9" fill="#ec1414"/>
<rect x="75.14" y="542.1" width="4" height="8.8" fill="#ec1414"/>
<rect x="81.63" y="542.9" width="4" height="8" fill="#ec1414"/>
<rect x="88.12" y="542.9" width="4" height="8" fill="#ec1414"/>
<rect x="94.61" y="542.4" width="4" height="8.5" fill="#ec1414"/>
<rect x="101.1" y="541.1" width="4" height="9.8" fill="#ec1414"/>
<rect x="107.59" y="539.2" width="4" height="11.7" fill="#ec1414"/>
<rect x="114.08" y="539.4" width="4" height="11.5" fill="#ec1414"/>
<rect x="120.57" y="538.7" width="4" height="12.2" fill="#ec1414"/>
<rect x="127.06" y="538.2" width="4" height="12.7" fill="#ec1414"/>
<rect x="133.55" y="538" width="4" height="12.9" fill="#ec1414"/>
<rect x="140.04" y="538.7" width="4" height="12.2" fill="#ec1414"/>
<rect x="146.53" y="539.9" width="4" height="11" fill="#ec1414"/>
<rect x="153.02" y="539.9" width="4" height="11" fill="#ec1414"/>
<rect x="159.51" y="539.7" width="4" height="11.2" fill="#ec1414"/>
<rect x="166" y="539.4" width="4" height="11.5" fill="#ec1414"/>
<rect x="172.49" y="539.2" width="4" height="11.7" fill="#ec1414"/>
<rect x="178.98" y="539.4" width="4" height="11.5" fill="#ec1414"/>
<rect x="185.47" y="539.9" width="4" height="11" fill="#ec1414"/>
<rect x="191.96" y="540.6" width="4" height="10.3" fill="#ec1414"/>
<rect x="198.45" y="542.6" width="4" height="8.3" fill="#ec1414"/>
<rect x="204.94" y="542.9" width="4" height="8" fill="#ec1414"/>
<rect x="211.43" y="541.9" width="4" height="9" fill="#ec1414"/>
<rect x="217.92" y="541.9" width="4" height="9" fill="#ec1414"/>
<rect x="224.41" y="542.4" width="4" height="8.5" fill="#ec1414"/>
<rect x="230.9" y="542.1" width="4" height="8.8" fill="#ec1414"/>
<rect x="237.39" y="542.1" width="4" height="8.8" fill="#ec1414"/>
<rect x="243.88" y="542.4" width="4" height="8.5" fill="#ec1414"/>
<rect x="250.37" y="542.9" width="4" height="8" fill="#ec1414"/>
<rect x="256.86" y="542.9" width="4" height="8" fill="#ec1414"/>
<rect x="263.35" y="543.3" width="4" height="7.6" fill="#ec1414"/>
<rect x="269.84" y="542.9" width="4" height="8" fill="#ec1414"/>
<rect x="276.33" y="542.4" width="4" height="8.5" fill="#ec1414"/>
<rect x="282.82" y="542.9" width="4" height="8" fill="#ec1414"/>
<rect x="289.31" y="543.3" width="4" height="7.6" fill="#ec1414"/>
<rect x="295.8" y="544.8" width="4" height="6.1" fill="#ec1414"/>
<rect x="302.29" y="544.6" width="4" height="6.3" fill="#ec1414"/>
<rect x="308.78" y="544.6" width="4" height="6.3" fill="#ec1414"/>
<rect x="315.27" y="544.1" width="4" height="6.8" fill="#ec1414"/>
<rect x="321.76" y="544.1" width="4" height="6.8" fill="#ec1414"/>
<rect x="328.25" y="544.1" width="4" height="6.8" fill="#ec1414"/>
<rect x="334.74" y="544.1" width="4" height="6.8" fill="#ec1414"/>
<rect x="341.23" y="544.1" width="4" height="6.8" fill="#ec1414"/>
<rect x="347.72" y="544.1" width="4" height="6.8" fill="#ec1414"/>
<rect x="354.21" y="544.1" width="4" height="6.8" fill="#ec1414"/>
<rect x="360.7" y="544.1" width="4" height="6.8" fill="#ec1414"/>
<rect x="367.19" y="544.1" width="4" height="6.8" fill="#ec1414"/>
<rect x="373.68" y="544.1" width="4" height="6.8" fill="#ec1414"/>
<rect x="380.17" y="544.1" width="4" height="6.8" fill="#ec1414"/>
<rect x="386.66" y="544.1" width="4" height="6.8" fill="#ec1414"/>
<rect x="393.15" y="544.1" width="4" height="6.8" fill="#ec1414"/>
<rect x="399.64" y="544.1" width="4" height="6.8" fill="#ec1414"/>
<rect x="406.13" y="544.1" width="4" height="6.8" fill="#ec1414"/>
<rect x="412.62" y="550.5" width="4" height="0.4" fill="#ec1414"/>
<rect x="419.11" y="550.9" width="4" height="0.7" fill="#148c14"/>
<rect x="425.6" y="550.9" width="4" height="0.7" fill="#148c14"/>
<rect x="432.09" y="550.9" width="4" height="0.9" fill="#148c14"/>
<rect x="438.58" y="549.9" width="4" height="1" fill="#ec1414"/>
<rect x="445.07" y="542.9" width="4" height="8" fill="#ec1414"/>
<rect x="451.56" y="540.9" width="4" height="10" fill="#ec1414"/>
<rect x="458.05" y="539.2" width="4" height="11.7" fill="#ec1414"/>
<rect x="464.54" y="539.7" width="4" height="11.2" fill="#ec1414"/>
<rect x="471.03" y="539.2" width="4" height="11.7" fill="#ec1414"/>
<rect x="477.52" y="537.5" width="4" height="13.4" fill="#ec1414"/>
<rect x="484.01" y="537.2" width="4" height="13.7" fill="#ec1414"/>
<rect x="490.5" y="537.2" width="4" height="13.7" fill="#ec1414"/>
<rect x="496.99" y="536.3" width="4" height="14.6" fill="#ec1414"/>
<rect x="503.48" y="536" width="4" height="14.9" fill="#ec1414"/>
<rect x="509.97" y="536.7" width="4" height="14.2" fill="#ec1414"/>
<rect x="516.46" y="537" width="4" height="13.9" fill="#ec1414"/>
<rect x="522.95" y="532.1" width="4" height="18.8" fill="#ec1414"/>
<rect x="529.44" y="531.4" width="4" height="19.5" fill="#ec1414"/>
<rect x="535.93" y="531.1" width="4" height="19.8" fill="#ec1414"/>
<rect x="542.42" y="531.9" width="4" height="19" fill="#ec1414"/>
<rect x="548.91" y="532.9" width="4" height="18" fill="#ec1414"/>
<rect x="555.4" y="532.3" width="4" height="18.6" fill="#ec1414"/>
<rect x="561.89" y="529.4" width="4" height="21.5" fill="#ec1414"/>
<rect x="568.38" y="527.5" width="4" height="23.4" fill="#ec1414"/>
<rect x="574.87" y="526.2" width="4" height="24.7" fill="#ec1414"/>
<rect x="581.36" y="525.8" width="4" height="25.1" fill="#ec1414"/>
<rect x="587.85" y="525.3" width="4" height="25.6" fill="#ec1414"/>
<rect x="594.34" y="525" width="4" height="25.9" fill="#ec1414"/>
<rect x="600.83" y="525.3" width="4" height="25.6" fill="#ec1414"/>
<rect x="607.32" y="520.9" width="4" height="30" fill="#ec1414"/>
<rect x="613.81" y="520.9" width="4" height="30" fill="#ec1414"/>
<rect x="620.3" y="520.9" width="4" height="30" fill="#ec1414"/>
<rect x="626.79" y="521.1" width="4" height="29.8" fill="#ec1414"/>
<rect x="633.28" y="520.9" width="4" height="30" fill="#ec1414"/>
<rect x="639.77" y="520.9" width="4" height="30" fill="#ec1414"/>
<rect x="646.26" y="520.4" width="4" height="30.5" fill="#ec1414"/>
<rect x="652.75" y="520.1" width="4" height="30.8" fill="#ec1414"/>
<rect x="659.24" y="520.9" width="4" height="30" fill="#ec1414"/>
<rect x="665.73" y="521.1" width="4" height="29.8" fill="#ec1414"/>
<rect x="672.22" y="520.9" width="4" height="30" fill="#ec1414"/>
<rect x="678.71" y="520.9" width="4" height="30" fill="#ec1414"/>
<rect x="685.2" y="521.4" width="4" height="29.5" fill="#ec1414"/>
<rect x="691.69" y="521.1" width="4" height="29.8" fill="#ec1414"/>
<rect x="698.18" y="521.1" width="4" height="29.8" fill="#ec1414"/>
<rect x="704.67" y="520.6" width="4" height="30.3" fill="#ec1414"/>
<rect x="711.16" y="523.8" width="4" height="27.1" fill="#ec1414"/>
<rect x="717.65" y="524" width="4" height="26.9" fill="#ec1414"/>
<path d="M750.8 367.9V376.4" stroke="#98a8bc" stroke-width="0.8"/><circle cx="750.8" cy="374.3" r="0.9" fill="#fff" stroke="#98a8bc" stroke-width="0.7"/><path d="M754.4 367.9V376.4" stroke="#98a8bc" stroke-width="0.8"/><circle cx="754.4" cy="372.3" r="0.9" fill="#fff" stroke="#98a8bc" stroke-width="0.7"/><path d="M757.9 367.9V376.4" stroke="#98a8bc" stroke-width="0.8"/><circle cx="757.9" cy="370.2" r="0.9" fill="#fff" stroke="#98a8bc" stroke-width="0.7"/><rect x="763.1" y="368.2" width="4.1" height="3.2" fill="none" stroke="#98a8bc" stroke-width="0.85"/><rect x="767.5" y="373.4" width="4.4" height="3" fill="none" stroke="#98a8bc" stroke-width="0.85"/><path d="M768.3 368.2Q771.7 368.2 771.7 371.6M763.1 373.1Q763.1 376.4 766.4 376.4" fill="none" stroke="#98a8bc" stroke-width="0.85"/><path d="M776.3 368.2L784.8 376.1M784.8 368.2L776.3 376.1" stroke="#98a8bc" stroke-width="0.85"/>
<path d="M750.8 432.4V440.9" stroke="#98a8bc" stroke-width="0.8"/><circle cx="750.8" cy="438.8" r="0.9" fill="#fff" stroke="#98a8bc" stroke-width="0.7"/><path d="M754.4 432.4V440.9" stroke="#98a8bc" stroke-width="0.8"/><circle cx="754.4" cy="436.8" r="0.9" fill="#fff" stroke="#98a8bc" stroke-width="0.7"/><path d="M757.9 432.4V440.9" stroke="#98a8bc" stroke-width="0.8"/><circle cx="757.9" cy="434.7" r="0.9" fill="#fff" stroke="#98a8bc" stroke-width="0.7"/><rect x="763.1" y="432.7" width="4.1" height="3.2" fill="none" stroke="#98a8bc" stroke-width="0.85"/><rect x="767.5" y="437.9" width="4.4" height="3" fill="none" stroke="#98a8bc" stroke-width="0.85"/><path d="M768.3 432.7Q771.7 432.7 771.7 436.1M763.1 437.6Q763.1 440.9 766.4 440.9" fill="none" stroke="#98a8bc" stroke-width="0.85"/><path d="M776.3 432.7L784.8 440.6M784.8 432.7L776.3 440.6" stroke="#98a8bc" stroke-width="0.85"/>
<path d="M750.8 498.2V506.7" stroke="#98a8bc" stroke-width="0.8"/><circle cx="750.8" cy="504.6" r="0.9" fill="#fff" stroke="#98a8bc" stroke-width="0.7"/><path d="M754.4 498.2V506.7" stroke="#98a8bc" stroke-width="0.8"/><circle cx="754.4" cy="502.6" r="0.9" fill="#fff" stroke="#98a8bc" stroke-width="0.7"/><path d="M757.9 498.2V506.7" stroke="#98a8bc" stroke-width="0.8"/><circle cx="757.9" cy="500.5" r="0.9" fill="#fff" stroke="#98a8bc" stroke-width="0.7"/><rect x="763.1" y="498.5" width="4.1" height="3.2" fill="none" stroke="#98a8bc" stroke-width="0.85"/><rect x="767.5" y="503.7" width="4.4" height="3" fill="none" stroke="#98a8bc" stroke-width="0.85"/><path d="M768.3 498.5Q771.7 498.5 771.7 501.9M763.1 503.4Q763.1 506.7 766.4 506.7" fill="none" stroke="#98a8bc" stroke-width="0.85"/><path d="M776.3 498.5L784.8 506.4M784.8 498.5L776.3 506.4" stroke="#98a8bc" stroke-width="0.85"/>
<path d="M763.8 39.1V47.7" stroke="#98a8bc" stroke-width="0.8"/><circle cx="763.8" cy="45.5" r="1.1" fill="#fff" stroke="#98a8bc" stroke-width="0.7"/><path d="M767.4 39.1V47.7" stroke="#98a8bc" stroke-width="0.8"/><circle cx="767.4" cy="43.2" r="1.1" fill="#fff" stroke="#98a8bc" stroke-width="0.7"/><path d="M770.6 39.1V47.7" stroke="#98a8bc" stroke-width="0.8"/><circle cx="770.6" cy="41.2" r="1.1" fill="#fff" stroke="#98a8bc" stroke-width="0.7"/><rect x="776.4" y="39.2" width="8.4" height="8.6" rx="1.6" fill="#b9c4d2"/><path d="M779 40H782.6L784 41.4V45.6H779Z" fill="#edf1f6"/><path d="M778.3 46.6H783.6" stroke="#fff" stroke-width="0.6"/>
<rect x="820.4" y="36" width="25.4" height="124.6" fill="#fff" stroke="#dcdcdc" stroke-width="0.9"/>
<path d="M820.4 135.7H845.8" stroke="#dcdcdc" stroke-width="0.9"/>
<path d="M830 54L838.2 46.6" stroke="#7b8ea4" stroke-width="0.8"/><circle cx="829" cy="54.9" r="1.6" fill="#fff" stroke="#7b8ea4" stroke-width="0.7"/><circle cx="839.2" cy="45.7" r="1.6" fill="#fff" stroke="#7b8ea4" stroke-width="0.7"/>
<path d="M830.3 69.8L836.2 71.8M837.8 73.7L839 79" stroke="#7b8ea4" stroke-width="0.8"/><circle cx="829" cy="69.4" r="1.6" fill="#fff" stroke="#7b8ea4" stroke-width="0.7"/><circle cx="837.5" cy="72.3" r="1.6" fill="#fff" stroke="#7b8ea4" stroke-width="0.7"/><circle cx="839.2" cy="80.3" r="1.6" fill="#fff" stroke="#7b8ea4" stroke-width="0.7"/>
<path d="M828.4 118V130.3H841.6M828.4 130.3L841 118.4M828.4 130.3L841.3 123.2M828.4 130.3L841.5 127.2" stroke="#7b8ea4" stroke-width="0.8" fill="none"/>
<path d="M828.6 145.2H840.2M832 145V143.3H836.8V145M829.8 145.4V154.3Q829.8 155.6 831.1 155.6H837.7Q839 155.6 839 154.3V145.4M832.6 147.5V153M834.4 147.5V153M836.2 147.5V153" stroke="#7b8ea4" stroke-width="0.9" fill="none"/>
<circle cx="963.5" cy="10.9" r="6.5" fill="#1e90ff"/><circle cx="963.5" cy="10.9" r="3.9" fill="none" stroke="#fff" stroke-width="0.9"/><path d="M963.5 12.5L958.3 21L968.7 21Z" fill="#fff"/><rect x="961.75" y="8.8" width="3.5" height="12" rx="1.75" fill="#fff" stroke="#1e90ff" stroke-width="1.15"/>
<path d="M982.01 6.74A6.8 6.8 0 0 1 992.96 11.39M990.39 17.46A6.8 6.8 0 0 1 979.44 12.81" fill="none" stroke="#1aa3ec" stroke-width="1.7"/><path d="M990.4 10.7H995.6L993 15.5Z" fill="#1aa3ec"/><path d="M982 13.5H976.8L979.4 8.7Z" fill="#1aa3ec"/>
<circle cx="1006.5" cy="10.1" r="3.3" fill="none" stroke="#3bb4ea" stroke-width="1.1"/><path d="M1002 19.3V16.3Q1002 13.3 1005 13.3H1008Q1011 13.3 1011 16.3V19.3" fill="none" stroke="#3bb4ea" stroke-width="1.1"/><path d="M1012 8.2H1017.8M1012 11.4H1017.8M1012 14.8H1017.8M1012 18.3H1017.8" stroke="#3bb4ea" stroke-width="1.1"/>
</svg>
<div class="t" style="left:791.8px;top:80.36px;font-size:9.9px;line-height:11.88px;color:#555;transform:scaleX(0.93);transform-origin:0 50%">34194</div>
<div class="t" style="left:791.8px;top:214.16px;font-size:9.9px;line-height:11.88px;color:#555;transform:scaleX(0.93);transform-origin:0 50%">33578</div>
<div class="t" style="left:791.8px;top:349.86px;font-size:9.9px;line-height:11.88px;color:#555;transform:scaleX(0.93);transform-origin:0 50%">32961</div>
<div class="t" style="left:791.8px;top:378.06px;font-size:9.9px;line-height:11.88px;color:#555;transform:scaleX(0.93);transform-origin:0 50%">6000</div>
<div class="t" style="left:791.8px;top:418.86px;font-size:9.9px;line-height:11.88px;color:#555;transform:scaleX(0.93);transform-origin:0 50%">0</div>
<div class="t" style="left:791.8px;top:443.46px;font-size:9.9px;line-height:11.88px;color:#555;transform:scaleX(0.93);transform-origin:0 50%">3000</div>
<div class="t" style="left:791.8px;top:468.76px;font-size:9.9px;line-height:11.88px;color:#555;transform:scaleX(0.93);transform-origin:0 50%">0</div>
<div class="t" style="left:791.8px;top:484.76px;font-size:9.9px;line-height:11.88px;color:#555;transform:scaleX(0.93);transform-origin:0 50%">-2000</div>
<div class="t" style="left:791.8px;top:509.96px;font-size:9.9px;line-height:11.88px;color:#555;transform:scaleX(0.93);transform-origin:0 50%">8000</div>
<div class="t" style="left:791.8px;top:534.46px;font-size:9.9px;line-height:11.88px;color:#555;transform:scaleX(0.93);transform-origin:0 50%">2000</div>
<div class="t" style="left:791.8px;top:550.46px;font-size:9.9px;line-height:11.88px;color:#555;transform:scaleX(0.93);transform-origin:0 50%">-2000</div>
<div class="t" style="left:624.7px;top:79.82px;font-size:8.3px;line-height:9.96px;color:#444;">34179<span style="font-family:'DejaVu Sans',sans-serif;font-size:8.5px">→</span></div>
<div class="sel" style="left:2.5px;top:5.5px;width:56px;height:12px">台指期<i></i></div>
<div class="sel" style="left:61px;top:5.5px;width:56.4px;height:12px">小型台指期<i></i></div>
<div class="sel" style="left:120px;top:5.5px;width:37px;height:12px">5分K<i></i></div>
<div class="t" style="left:159px;top:6.88px;font-size:8.53px;line-height:10.24px;color:#6d819b;">自定:</div>
<div style="position:absolute;left:178.8px;top:5.5px;width:19px;height:14px;box-sizing:border-box;border:1px solid #999;border-radius:2px;background:#fff"></div>
<div class="t" style="left:744.5px;top:20.93px;font-size:8.45px;line-height:10.14px;color:#687a94;word-spacing:-0.3px">視窗數量 1 2 3 4 5 6</div>
<div class="t" style="left:1.9px;top:36.6px;font-size:33.8px;line-height:40px;font-weight:bold;color:#f11;-webkit-text-stroke:1.2px #f11;transform:scaleX(0.495);transform-origin:0 0;letter-spacing:1px">34009</div>
<div class="t" style="left:56.2px;top:43.9px;font-size:12.8px;line-height:14px;font-weight:bold;color:#f11;-webkit-text-stroke:0.35px #f11;transform:scaleX(1.16);transform-origin:0 0"><span style="display:inline-block;margin-left:-2.2px;width:12.8px;height:10px;font-size:15.5px;line-height:10px;vertical-align:-0.5px;-webkit-text-stroke:0;transform:scaleX(0.8);transform-origin:0 50%">▲</span>1292<br>(3.95%)</div>
<div class="t" style="left:131.6px;top:55.68px;font-size:6.7px;line-height:8.04px;color:#8a8a8a;">開</div>
<div class="t" style="left:141.6px;top:54.56px;font-size:8.4px;line-height:10.08px;color:#111;font-weight:bold;letter-spacing:0.4px;-webkit-text-stroke:0.2px #111">33998</div>
<div class="t" style="left:170.6px;top:55.68px;font-size:6.7px;line-height:8.04px;color:#8a8a8a;">高</div>
<div class="t" style="left:180.6px;top:54.56px;font-size:8.4px;line-height:10.08px;color:#111;font-weight:bold;letter-spacing:0.4px;-webkit-text-stroke:0.2px #111">34016</div>
<div class="t" style="left:209.3px;top:55.68px;font-size:6.7px;line-height:8.04px;color:#8a8a8a;">低</div>
<div class="t" style="left:219.3px;top:54.56px;font-size:8.4px;line-height:10.08px;color:#111;font-weight:bold;letter-spacing:0.4px;-webkit-text-stroke:0.2px #111">33982</div>
<div class="t" style="left:247.8px;top:55.68px;font-size:6.7px;line-height:8.04px;color:#8a8a8a;">收</div>
<div class="t" style="left:258.1px;top:54.56px;font-size:8.4px;line-height:10.08px;color:#111;font-weight:bold;letter-spacing:0.4px;-webkit-text-stroke:0.2px #111">34009</div>
<div class="t" style="left:381.7px;top:53.28px;font-size:8.53px;line-height:10.24px;color:#555;">日均線(5) <span style="color:#3fa7d1">33171.40</span> 金箍棒(1)</div>
<div class="t" style="left:1.3px;top:366.96px;font-size:8.4px;line-height:10.08px;color:#333;">成交量</div>
<div class="t" style="left:28.3px;top:366.88px;font-size:8.53px;line-height:10.24px;color:#f6ad3a;">363.00<span style="display:inline-block;width:4px;font-family:'DejaVu Sans',sans-serif;font-weight:bold;font-size:8.6px;transform:scaleX(0.55);transform-origin:0 50%;color:#f6ad3a">↓</span></div>
<div class="t" style="left:61px;top:366.88px;font-size:8.53px;line-height:10.24px;color:#4fc1f4;">1329.40<span style="display:inline-block;width:4px;font-family:'DejaVu Sans',sans-serif;font-weight:bold;font-size:8.6px;transform:scaleX(0.55);transform-origin:0 50%;color:#4fc1f4">↓</span></div>
<div class="t" style="left:1.8px;top:432.22px;font-size:8.3px;line-height:9.96px;color:#333;">買賣力道</div>
<div class="t" style="left:36.4px;top:432.08px;font-size:8.53px;line-height:10.24px;color:#f6ad3a;">-165.00<span style="display:inline-block;width:4px;font-family:'DejaVu Sans',sans-serif;font-weight:bold;font-size:8.6px;transform:scaleX(0.55);transform-origin:0 50%;color:#f6ad3a">↓</span></div>
<div class="t" style="left:1.8px;top:498.02px;font-size:8.3px;line-height:9.96px;color:#333;">大戶籌碼</div>
<div class="t" style="left:36.4px;top:497.88px;font-size:8.53px;line-height:10.24px;color:#f6ad3a;">5266.00<span style="display:inline-block;width:4px;font-family:'DejaVu Sans',sans-serif;font-weight:bold;font-size:8.6px;transform:scaleX(0.55);transform-origin:0 50%;color:#f6ad3a">↓</span></div>
<div class="t" style="left:827.4px;top:88.5px;width:14px;text-align:center;font-family:'Liberation Serif',serif;font-size:19px;line-height:22px;color:#7b8ea4">T</div>
<div id="panel">
<div id="ptitle"></div><div id="ptabs"><div class="act"></div></div>
<div class="t" style="left:3.4px;top:4.52px;font-size:8.3px;line-height:9.96px;color:#222;">台指期-策略1 (模擬交易)</div>
<div class="t" style="left:131.2px;top:0;width:35.6px;height:14.2px;box-sizing:border-box;border:1px solid #8f8f8f;border-radius:2px;background:#f2f2f2;font-size:8.4px;line-height:12px;text-align:center;color:#222">切換模式</div>
<div class="t" style="left:10.8px;top:26.08px;font-size:8.53px;line-height:10.24px;color:#111;font-weight:bold">下單</div>
<div class="t" style="left:40.8px;top:26.16px;font-size:8.4px;line-height:10.08px;color:#333;">策略設定</div>
<div class="t" style="left:79.6px;top:26.16px;font-size:8.4px;line-height:10.08px;color:#333;">交易記錄</div>
<div class="t" style="left:124.2px;top:26.16px;font-size:8.4px;line-height:10.08px;color:#333;">歷史回測</div>
<svg width="40" height="12" viewBox="0 0 40 12" style="left:131px;top:45.5px"><g><circle cx="4.3" cy="4.4" r="3.1" fill="#62cfee" stroke="#4f97d4" stroke-width="0.8"/><path d="M6.8 6.9L8.8 8.8" stroke="#7c3b8e" stroke-width="1.7" stroke-linecap="round"/><circle cx="23.3" cy="4.4" r="3.1" fill="#62cfee" stroke="#4f97d4" stroke-width="0.8"/><path d="M25.8 6.9L27.8 8.8" stroke="#7c3b8e" stroke-width="1.7" stroke-linecap="round"/></g></svg>
<div class="t" style="left:142.6px;top:47.1px;font-size:8.5px;line-height:10.2px;color:#2f3fff;font-weight:bold">+</div>
<div class="t" style="left:161.4px;top:45.5px;font-size:8.5px;line-height:10.2px;color:#2f3fff;font-weight:bold">-</div>
<div class="t" style="left:9.7px;top:54.53px;font-size:8.95px;line-height:10.74px;color:#333;">商品: 小型台指期</div>
<div class="t" style="left:9.7px;top:67.93px;font-size:8.95px;line-height:10.74px;color:#333;">收盤價: 34007.00</div>
<div class="t" style="left:9.7px;top:81.23px;font-size:8.95px;line-height:10.74px;color:#333;">今日漲跌: 1290 (3.94%)</div>
<div class="t" style="left:9.7px;top:94.63px;font-size:8.95px;line-height:10.74px;color:#333;">策略設定: 全部條件</div>
<div class="t" style="left:9.7px;top:108.03px;font-size:8.95px;line-height:10.74px;color:#333;">未平倉部位: 0</div>
<div class="t" style="left:9.7px;top:121.33px;font-size:8.95px;line-height:10.74px;color:#333;">平均進場價格: 0.00</div>
<div class="t" style="left:9.7px;top:134.63px;font-size:8.95px;line-height:10.74px;color:#333;">移動停利價格: 0.00</div>
<div class="t" style="left:9.7px;top:147.93px;font-size:8.95px;line-height:10.74px;color:#333;">未平倉損益: 0.00</div>
<div class="t" style="left:9.7px;top:161.33px;font-size:8.95px;line-height:10.74px;color:#333;">停利線出場損益: 0.00</div>
<div class="t" style="left:9.7px;top:174.73px;font-size:8.95px;line-height:10.74px;color:#333;">平倉損益: 0.00</div>
<div class="sel" style="left:8.6px;top:192.4px;width:41px;height:13.2px;color:#333;line-height:11.6px;border-color:#777">市價單<i style="top:3px;border-color:#111;border-width:1.5px;right:3.4px"></i></div>
<div style="position:absolute;left:52.6px;top:194.2px;width:7.3px;height:7.3px;box-sizing:border-box;border:1px solid #6f6f6f;border-radius:1.6px;background:#fff"></div>
<div class="t" style="left:63.4px;top:193.92px;font-size:8.3px;line-height:9.96px;color:#111;font-weight:bold">自動出</div>
<div style="position:absolute;left:6px;top:208.4px;width:76px;height:55px;background:#fe0000"></div>
<div style="position:absolute;left:83.9px;top:208.4px;width:76.3px;height:55px;background:#007f00"></div>
<div style="position:absolute;left:108.6px;top:208.4px;width:52.1px;height:25.4px;background:#007f00"></div>
<div style="position:absolute;left:58.2px;top:208.4px;width:50.2px;height:25.4px;box-sizing:border-box;background:#fff;border:0.8px solid #ccc"></div>
<div class="t" style="left:21.2px;top:215.26px;font-size:11.4px;line-height:13.68px;color:#fff;letter-spacing:-0.5px">BUY</div>
<div class="t" style="left:121.2px;top:215.26px;font-size:11.4px;line-height:13.68px;color:#fff;letter-spacing:-0.3px">SELL</div>
<div class="t" style="left:75.6px;top:215.14px;font-size:11.6px;line-height:13.92px;color:#333;">1</div>
<div class="t" style="left:22.6px;top:240.1px;font-size:10.4px;line-height:20px;color:#fff">340 <span style="font-size:16px;letter-spacing:-0.9px">07</span></div>
<div class="t" style="left:100.8px;top:240.1px;font-size:10.4px;line-height:20px;color:#fff">340 <span style="font-size:16px;letter-spacing:-0.6px">06</span></div>
<div class="btn" style="left:6px;top:270px;width:74.8px;height:27px;line-height:27px;background:#0d7cfe;border-radius:2px">取消觸價單</div>
<div class="btn" style="left:86px;top:270px;width:74.7px;height:27px;line-height:27px;background:#0d7cfe;border-radius:2px">全部平倉</div>
<div class="btn" style="left:6px;top:301px;width:154.7px;height:21.7px;line-height:19.5px;background:#02a8fd;border:1px solid #3a3a3a;border-bottom:1.4px solid #222;border-right-color:#222">影音教學</div>
</div>
</body></html>
